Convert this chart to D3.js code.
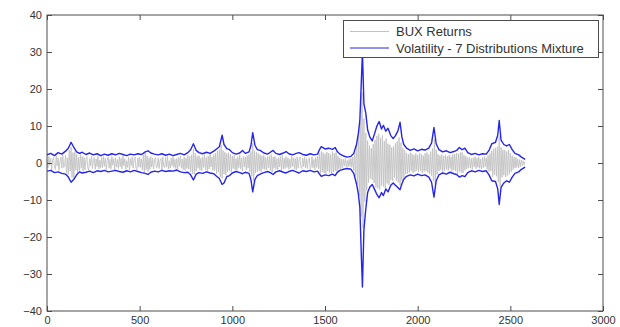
<!DOCTYPE html>
<html>
<head>
<meta charset="utf-8">
<script src="https://cdn.jsdelivr.net/npm/d3@7"></script>
<style>
  html, body { margin: 0; padding: 0; background: #fff; }
  svg { display: block; }
  text { font-family: Arial, "Liberation Sans", Helvetica, sans-serif; }
</style>
</head>
<body>
<svg id="chart" width="620" height="327"></svg>
<script>
// Axis tick values
const xTicks = [0, 500, 1000, 1500, 2000, 2500, 3000];
const yTicks = [-40, -30, -20, -10, 0, 10, 20, 30, 40];

// Series names for the legend
const seriesNames = ["BUX Returns", "Volatility - 7 Distributions Mixture"];

// BUX returns, one reading every 5 trading days (day 0 .. 2580)
const returnStep = 5;
const bux = [
  0.9, -1.3, 1.8, -0.6, 1.2, -1.9, 0.7, 1.5, -1.1, -1.7, 1.9, -0.8, 1.4, -2.0, 0.5, 1.6, -1.4, 2.1, -1.2, -0.7,
  2.1, -2.6, 1.4, -3.1, 3.4, -2.2, 4.3, -3.9, 2.8, -4.2, 3.1, -1.9, 2.4, -2.7, 1.6, -2.1, 2.3, -1.4, 1.8, -2.2,
  1.5, -1.8, 0.9, 1.7, -1.3, -1.9, 1.2, -0.8, 1.8, -1.5, 0.6, 1.4, -1.7, 1.1, -1.0, 1.9, -1.6, 0.8, -1.3, 1.5,
  -1.2, 1.7, -0.9, 1.3, -1.8, 0.7, 1.6, -1.4, 1.0, -1.6, 1.8, -0.6, 1.2, -1.9, 1.4, -1.1, 0.9, -1.5, 1.7, -1.0,
  1.3, -1.6, 1.9, -0.8, 1.1, -1.7, 0.6, -1.2, 1.5, -1.9, 1.2, -0.7, 1.7, -1.4, 0.9, 1.6, -1.3, -1.8, 1.4, -1.1,
  1.6, -1.2, 1.1, -1.9, 2.2, -2.5, 2.7, -1.8, 2.0, -2.3, 1.4, -1.7, 1.8, -1.1, 1.3, -1.6, 0.8, 1.5, -1.4, -0.9,
  1.4, -1.5, 0.7, 1.2, -1.8, 1.6, -0.9, -1.3, 1.5, -1.1, 1.8, -1.6, 0.6, -1.4, 1.3, -0.8, 1.7, -1.2, 1.0, -1.5,
  1.2, -1.7, 1.5, -0.9, 1.9, -1.4, 1.1, -1.8, 1.6, -2.0, 1.3, -1.5, 2.1, -1.7, 1.8, -2.4, 2.2, -2.9, 3.8, -3.1,
  2.6, -2.2, 1.8, -1.4, 2.0, -1.9, 1.3, -2.1, 1.7, -1.2, 2.2, -1.8, 1.5, -2.3, 1.9, -1.6, 2.4, -1.1, 1.6, -2.0,
  2.3, -2.0, 2.7, -2.9, 3.3, -2.5, 3.6, -3.8, 4.8, -4.1, 3.4, -3.0, 2.9, -3.3, 2.6, -2.4, 2.8, -2.1, 2.3, -2.6,
  1.9, -1.5, 2.1, -1.8, 1.2, -2.0, 1.7, -1.3, 2.2, -1.6, 1.4, -2.1, 1.8, -1.1, 1.6, -1.9, 2.0, -1.4, 2.3, -2.4,
  3.1, -3.6, 5.4, -4.9, 3.3, -2.7, 2.9, -2.4, 2.6, -2.1, 2.3, -2.5, 1.9, -1.6, 2.1, -1.8, 1.5, -1.9, 1.7, -1.3,
  1.8, -2.0, 2.3, -2.5, 1.6, -1.4, 1.9, -1.7, 1.2, -1.8, 1.5, -1.1, 1.7, -2.0, 2.1, -1.6, 1.3, -1.5, 1.8, -1.2,
  1.4, -1.7, 1.1, -1.3, 1.8, -0.9, 1.5, -1.6, 1.2, -1.9, 1.7, -1.4, 0.8, 1.6, -1.2, -1.5, 1.3, -1.0, 1.6, -1.3,
  1.2, -1.5, 0.9, 1.4, -1.6, -1.1, 1.7, -1.3, 1.0, -1.8, 1.5, -1.2, 1.9, -1.6, 2.6, -2.9, 3.1, -2.4, 2.8, -2.7,
  2.5, -2.9, 3.0, -2.2, 2.7, -2.6, 2.3, -2.8, 3.1, -2.4, 2.6, -2.1, 2.9, -2.3, 1.9, -1.6, 1.4, -1.5, 1.1, -1.3,
  1.0, -0.8, 1.2, -1.1, 0.7, -1.0, 1.1, -0.9, 1.3, -1.2, 1.6, -2.1, 2.8, -3.6, 4.9, -5.7, 7.4, -8.9, 11.0, -14.5,
  19.0, -17.5, 12.0, -10.5, 8.1, -7.4, 6.0, -5.3, 4.7, -4.2, 4.0, -4.6, 5.1, -5.4, 6.2, -6.6, 7.3, -6.8, 7.9, -7.2,
  6.8, -6.1, 7.5, -6.4, 5.9, -6.8, 6.6, -5.5, 5.2, -5.9, 4.9, -4.6, 4.2, -4.8, 4.5, -4.0, 5.3, -4.7, 5.8, -5.2,
  6.9, -6.0, 5.5, -4.8, 4.1, -3.9, 3.4, -3.0, 2.7, -2.9, 2.4, -2.6, 2.8, -2.2, 2.5, -2.7, 2.1, -2.4, 2.6, -2.0,
  2.2, -2.5, 2.7, -2.1, 2.4, -2.8, 2.0, -2.3, 2.6, -2.2, 2.9, -2.6, 2.3, -2.9, 3.1, -3.4, 3.9, -4.8, 6.4, -5.9,
  3.6, -3.1, 2.4, -2.2, 2.0, -1.8, 2.3, -2.4, 1.9, -2.1, 2.2, -1.7, 1.8, -2.0, 2.1, -1.5, 1.7, -2.2, 2.3, -1.9,
  2.4, -2.2, 2.7, -2.9, 2.5, -2.3, 2.8, -2.6, 2.9, -2.7, 2.2, -2.0, 1.8, -1.6, 1.5, -1.3, 1.6, -1.4, 1.2, -1.7,
  1.4, -1.1, 1.7, -1.5, 1.3, -1.2, 1.6, -1.4, 1.1, -1.6, 1.5, -1.3, 1.8, -1.0, 1.4, -1.7, 2.0, -2.3, 2.6, -2.2,
  3.3, -3.7, 3.9, -3.2, 4.1, -3.6, 4.4, -5.1, 7.2, -6.4, 4.3, -3.9, 3.6, -3.3, 3.5, -3.8, 3.1, -3.4, 3.6, -3.0,
  2.7, -2.4, 2.0, -1.8, 1.6, -1.4, 1.5, -1.2, 1.1, -1.3, 0.9, -1.0, 0.8, -0.7, 0.6, -0.5, 0.3
];

// Volatility band from the 7-distribution mixture model
const volDays = [
  0, 20, 40, 60, 80, 100, 115, 130, 145, 160, 175, 190, 210, 230, 250, 270, 290,
  310, 330, 350, 370, 390, 410, 430, 450, 470, 490, 510, 530, 545, 560, 580, 600,
  620, 640, 660, 680, 700, 720, 740, 760, 775, 790, 805, 820, 840, 860, 880, 900,
  915, 930, 945, 955, 970, 985, 1000, 1020, 1040, 1055, 1070, 1090, 1100, 1110,
  1122, 1135, 1150, 1170, 1190, 1205, 1220, 1235, 1255, 1275, 1290, 1305, 1325,
  1345, 1360, 1380, 1400, 1420, 1440, 1460, 1470, 1480, 1500, 1520, 1540, 1555,
  1565, 1580, 1600, 1620, 1640, 1655, 1670, 1680, 1688, 1696, 1702, 1710, 1720,
  1730, 1742, 1755, 1768, 1780, 1792, 1805, 1815, 1828, 1840, 1855, 1868, 1880,
  1893, 1905, 1915, 1925, 1940, 1960, 1980, 2000, 2020, 2040, 2060, 2075, 2088,
  2100, 2115, 2135, 2155, 2175, 2195, 2210, 2225, 2240, 2255, 2270, 2290, 2310,
  2330, 2350, 2370, 2385, 2400, 2420, 2432, 2440, 2450, 2465, 2480, 2495, 2510,
  2525, 2545, 2560, 2580
];
const volUpper = [
  2.2, 2.6, 2.0, 2.8, 2.4, 3.2, 4.0, 5.6, 4.2, 3.0, 2.6, 2.9, 2.3, 2.7, 2.2, 2.5, 2.0,
  2.4, 2.1, 2.5, 2.2, 2.6, 2.3, 2.0, 2.4, 2.2, 2.5, 2.3, 3.0, 3.3, 2.7, 2.4, 2.2,
  2.5, 2.1, 2.4, 2.0, 2.3, 2.6, 2.2, 2.8, 3.6, 5.2, 3.4, 2.8, 2.5, 2.9, 2.6, 3.2,
  3.8, 4.4, 7.5, 5.0, 3.9, 3.6, 2.8, 2.4, 2.7, 3.4, 2.6, 3.0, 4.6, 8.2,
  4.8, 3.6, 3.4, 2.7, 2.4, 2.9, 3.4, 2.6, 2.3, 2.7, 3.1, 2.5, 2.2,
  2.6, 2.8, 2.3, 2.1, 2.5, 2.2, 2.4, 3.6, 4.4, 3.8, 4.0, 3.7, 4.2,
  3.2, 2.4, 1.9, 1.6, 1.8, 2.6, 5.0, 8.0, 11.5, 22.0, 30.0, 16.0, 13.5,
  9.0, 7.0, 6.0, 8.0, 10.0, 11.2, 9.2, 10.2, 8.6, 9.4, 7.4, 6.6, 7.4,
  8.6, 11.0, 7.0, 5.0, 4.0, 3.4, 3.8, 3.3, 3.7, 3.5, 4.0, 5.4, 9.6,
  5.2, 3.6, 3.0, 3.3, 2.8, 3.1, 3.4, 4.2, 3.6, 4.0, 2.8, 2.3, 2.6,
  2.2, 2.5, 2.4, 3.4, 5.2, 5.6, 7.5, 11.5, 6.2, 5.0, 4.6, 5.0, 3.6,
  2.6, 2.2, 1.6, 1.0
];
const volLower = [
  -2.2, -2.0, -2.6, -2.4, -2.8, -3.0, -3.8, -5.2, -4.4, -3.2, -2.4, -2.7, -2.5, -2.2, -2.6, -2.1, -2.3,
  -2.0, -2.4, -2.2, -2.0, -2.3, -2.5, -2.1, -2.4, -2.0, -2.3, -2.6, -2.8, -3.1, -2.5, -2.2, -2.4,
  -2.0, -2.3, -2.1, -2.2, -1.9, -2.4, -2.6, -2.5, -3.2, -4.6, -3.0, -2.6, -2.8, -2.4, -2.7, -2.9,
  -3.6, -4.2, -5.8, -5.4, -3.7, -3.4, -2.7, -2.3, -2.6, -2.9, -2.5, -2.8, -4.4, -7.8,
  -4.4, -3.4, -3.0, -2.6, -2.3, -2.6, -3.1, -2.4, -2.1, -2.5, -2.7, -2.3, -2.0,
  -2.4, -2.7, -2.1, -2.3, -2.0, -2.4, -2.2, -3.0, -3.6, -3.2, -3.4, -3.0, -3.4,
  -2.6, -2.0, -1.7, -1.5, -1.7, -2.8, -5.6, -8.4, -12.0, -25.0, -33.5, -18.0, -12.5,
  -8.0, -6.5, -5.8, -7.2, -8.5, -9.4, -8.0, -8.8, -7.0, -7.8, -6.0, -5.4, -6.0,
  -6.6, -7.2, -5.6, -4.4, -3.6, -3.2, -3.5, -3.0, -3.4, -3.2, -3.8, -5.2, -9.2,
  -4.8, -3.2, -2.7, -3.0, -2.5, -2.9, -3.1, -3.8, -3.4, -3.7, -2.6, -2.1, -2.4,
  -2.0, -2.3, -2.1, -3.2, -4.8, -5.0, -7.0, -11.2, -6.6, -5.4, -4.8, -5.2, -3.8,
  -2.8, -2.4, -1.7, -1.1
];

const svg = d3.select("#chart");
const plot = { left: 47, right: 603, top: 15, bottom: 311 };

const x = d3.scaleLinear().domain([0, 3000]).range([plot.left, plot.right]);
const y = d3.scaleLinear().domain([-40, 40]).range([plot.bottom, plot.top]);

const axisColor = "#4d4d4d";
const labelColor = "#333";
const grayColor = "#c2c2c2";
const blueColor = "#2626e8";

svg.append("defs").append("clipPath").attr("id", "plotClip")
  .append("rect")
  .attr("x", plot.left).attr("y", plot.top)
  .attr("width", plot.right - plot.left).attr("height", plot.bottom - plot.top);

const data = svg.append("g").attr("clip-path", "url(#plotClip)");

// Returns series
const returnLine = d3.line()
  .x((d, i) => x(i * returnStep))
  .y(d => y(d));
data.append("path")
  .datum(bux)
  .attr("fill", "none")
  .attr("stroke", grayColor)
  .attr("stroke-width", 0.9)
  .attr("d", returnLine);

// Volatility band (upper and lower)
const volLine = d3.line()
  .x(d => x(d[0]))
  .y(d => y(d[1]));
[volUpper, volLower].forEach(arr => {
  data.append("path")
    .datum(volDays.map((d, i) => [d, arr[i]]))
    .attr("fill", "none")
    .attr("stroke", blueColor)
    .attr("stroke-width", 1.4)
    .attr("stroke-linejoin", "round")
    .attr("d", volLine);
});

// Axes box with inward ticks on all four sides
const tickLen = 5;
const axes = svg.append("g");
axes.append("rect")
  .attr("x", plot.left).attr("y", plot.top)
  .attr("width", plot.right - plot.left).attr("height", plot.bottom - plot.top)
  .attr("fill", "none").attr("stroke", axisColor).attr("stroke-width", 1);

const fmt = d3.format("d");
const xAxisBottom = d3.axisBottom(x).tickValues(xTicks).tickSize(-tickLen).tickPadding(5).tickFormat(fmt);
const xAxisTop = d3.axisTop(x).tickValues(xTicks).tickSize(-tickLen).tickFormat("");
const yAxisLeft = d3.axisLeft(y).tickValues(yTicks).tickSize(-tickLen).tickPadding(5).tickFormat(fmt);
const yAxisRight = d3.axisRight(y).tickValues(yTicks).tickSize(-tickLen).tickFormat("");

function styleAxis(g) {
  g.select(".domain").remove();
  g.selectAll(".tick line").attr("stroke", axisColor);
  g.selectAll(".tick text")
    .attr("fill", labelColor)
    .style("font-size", "11px");
}

axes.append("g").attr("transform", `translate(0,${plot.bottom})`).call(xAxisBottom).call(styleAxis);
axes.append("g").attr("transform", `translate(0,${plot.top})`).call(xAxisTop).call(styleAxis);
axes.append("g").attr("transform", `translate(${plot.left},0)`).call(yAxisLeft).call(styleAxis);
axes.append("g").attr("transform", `translate(${plot.right},0)`).call(yAxisRight).call(styleAxis);

// Legend
const legend = svg.append("g");
legend.append("rect")
  .attr("x", 343.5).attr("y", 20.5)
  .attr("width", 255).attr("height", 37)
  .attr("fill", "#fff").attr("stroke", axisColor).attr("stroke-width", 1);
const legendColors = [grayColor, blueColor];
seriesNames.forEach((name, i) => {
  const cy = 31.5 + i * 16.5;
  legend.append("line")
    .attr("x1", 350).attr("x2", 389)
    .attr("y1", cy).attr("y2", cy)
    .attr("stroke", legendColors[i]).attr("stroke-width", 1);
  legend.append("text")
    .attr("x", 396).attr("y", cy)
    .attr("dy", "0.35em")
    .attr("fill", labelColor)
    .style("font-size", "13px")
    .text(name);
});
</script>
</body>
</html>
